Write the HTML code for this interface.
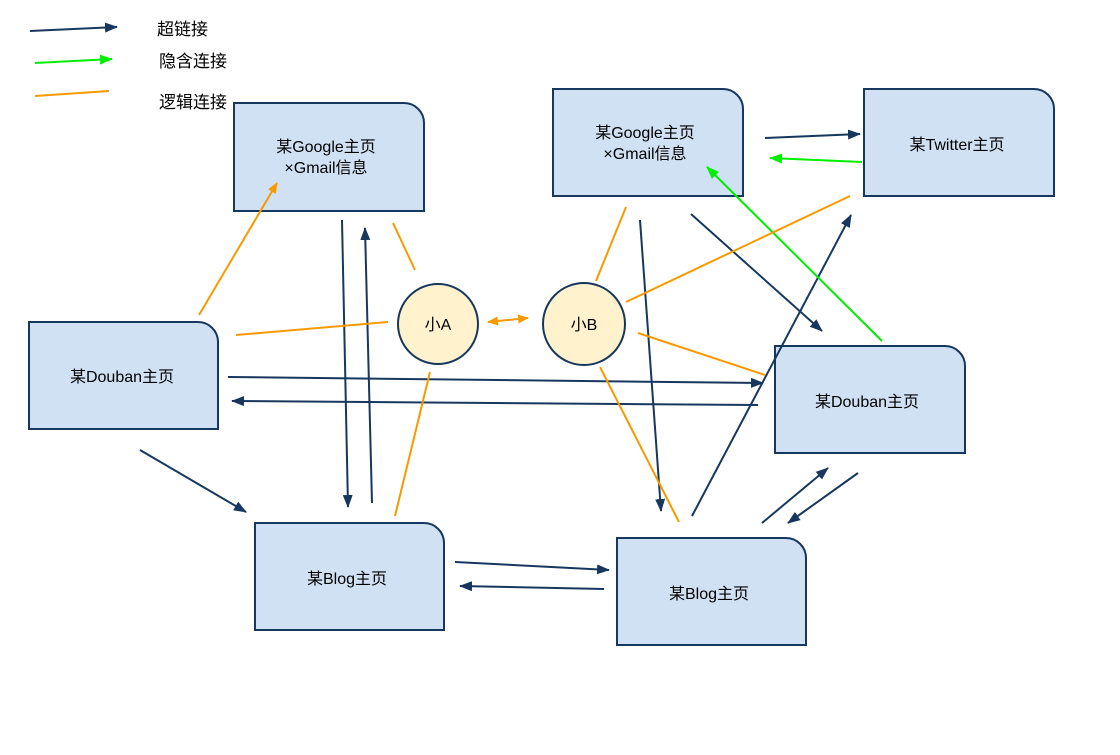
<!DOCTYPE html>
<html><head><meta charset="utf-8"><style>
body{margin:0;background:#fff;width:1120px;height:750px;overflow:hidden}
text{font-family:"Liberation Sans","Noto Sans CJK SC",sans-serif;font-size:16px;fill:#000}
.lg{font-size:17px}
</style></head><body>
<svg width="1120" height="750" xmlns="http://www.w3.org/2000/svg">
<defs>
<marker id="d" markerWidth="13" markerHeight="10" refX="12" refY="5" orient="auto" markerUnits="userSpaceOnUse"><path d="M0,0L13,5L0,10z" fill="#17375e"/></marker>
<marker id="g" markerWidth="13" markerHeight="10" refX="12" refY="5" orient="auto" markerUnits="userSpaceOnUse"><path d="M0,0L13,5L0,10z" fill="#00ee00"/></marker>
<marker id="o" markerWidth="11" markerHeight="9" refX="10" refY="4.5" orient="auto" markerUnits="userSpaceOnUse"><path d="M0,0L11,4.5L0,9z" fill="#f79a00"/></marker>
<marker id="os" markerWidth="11" markerHeight="9" refX="1" refY="4.5" orient="auto" markerUnits="userSpaceOnUse"><path d="M11,0L0,4.5L11,9z" fill="#f79a00"/></marker>
</defs>
<g fill="#cfe1f3" stroke="#17375e" stroke-width="2">
<path d="M234,103H404A20,20 0 0 1 424,123V211H234Z"/>
<path d="M553,89H723A20,20 0 0 1 743,109V196H553Z"/>
<path d="M864,89H1034A20,20 0 0 1 1054,109V196H864Z"/>
<path d="M29,322H198A20,20 0 0 1 218,342V429H29Z"/>
<path d="M775,346H945A20,20 0 0 1 965,366V453H775Z"/>
<path d="M255,523H424A20,20 0 0 1 444,543V630H255Z"/>
<path d="M617,538H786A20,20 0 0 1 806,558V645H617Z"/>
</g>
<g fill="#fff2cc" stroke="#17375e" stroke-width="2">
<circle cx="438" cy="324" r="40"/><circle cx="584" cy="324" r="41"/>
</g>
<g stroke="#17375e" stroke-width="2" fill="none" marker-end="url(#d)">
<line x1="30" y1="31" x2="117" y2="27"/>
<line x1="342" y1="220" x2="348" y2="507"/>
<line x1="372" y1="503" x2="365" y2="228"/>
<line x1="228" y1="377" x2="763" y2="383"/>
<line x1="758" y1="405" x2="232" y2="401"/>
<line x1="140" y1="450" x2="246" y2="512"/>
<line x1="455" y1="562" x2="609" y2="570"/>
<line x1="604" y1="589" x2="460" y2="586"/>
<line x1="640" y1="220" x2="661" y2="511"/>
<line x1="691" y1="214" x2="822" y2="331"/>
<line x1="692" y1="516" x2="851" y2="215"/>
<line x1="762" y1="523" x2="828" y2="468"/>
<line x1="858" y1="473" x2="788" y2="523"/>
<line x1="765" y1="138" x2="860" y2="134"/>
</g>
<g stroke="#00ee00" stroke-width="2" fill="none" marker-end="url(#g)">
<line x1="35" y1="63" x2="112" y2="59"/>
<line x1="862" y1="162" x2="770" y2="158"/>
<line x1="882" y1="341" x2="707" y2="167"/>
</g>
<g stroke="#f79a00" stroke-width="2" fill="none">
<line x1="35" y1="96" x2="109" y2="91"/>
<line x1="199" y1="315" x2="277" y2="183" marker-end="url(#o)"/>
<line x1="236" y1="335" x2="388" y2="322"/>
<line x1="393" y1="223" x2="415" y2="270"/>
<line x1="488" y1="322" x2="528" y2="318" marker-end="url(#o)" marker-start="url(#os)"/>
<line x1="430" y1="372" x2="395" y2="516"/>
<line x1="596" y1="281" x2="626" y2="207"/>
<line x1="626" y1="302" x2="850" y2="196"/>
<line x1="638" y1="333" x2="765" y2="375"/>
<line x1="600" y1="367" x2="679" y2="522"/>
</g>
<text class="lg" x="157" y="35">超链接</text>
<text class="lg" x="159" y="67">隐含连接</text>
<text class="lg" x="159" y="108">逻辑连接</text>
<g text-anchor="middle">
<text x="326" y="152">某Google主页</text><text x="326" y="173">×Gmail信息</text>
<text x="645" y="138">某Google主页</text><text x="645" y="159">×Gmail信息</text>
<text x="957" y="150">某Twitter主页</text>
<text x="122" y="382">某Douban主页</text>
<text x="867" y="407">某Douban主页</text>
<text x="347" y="584">某Blog主页</text>
<text x="709" y="599">某Blog主页</text>
<text x="438" y="330">小A</text>
<text x="584" y="330">小B</text>
</g>
</svg>
</body></html>
